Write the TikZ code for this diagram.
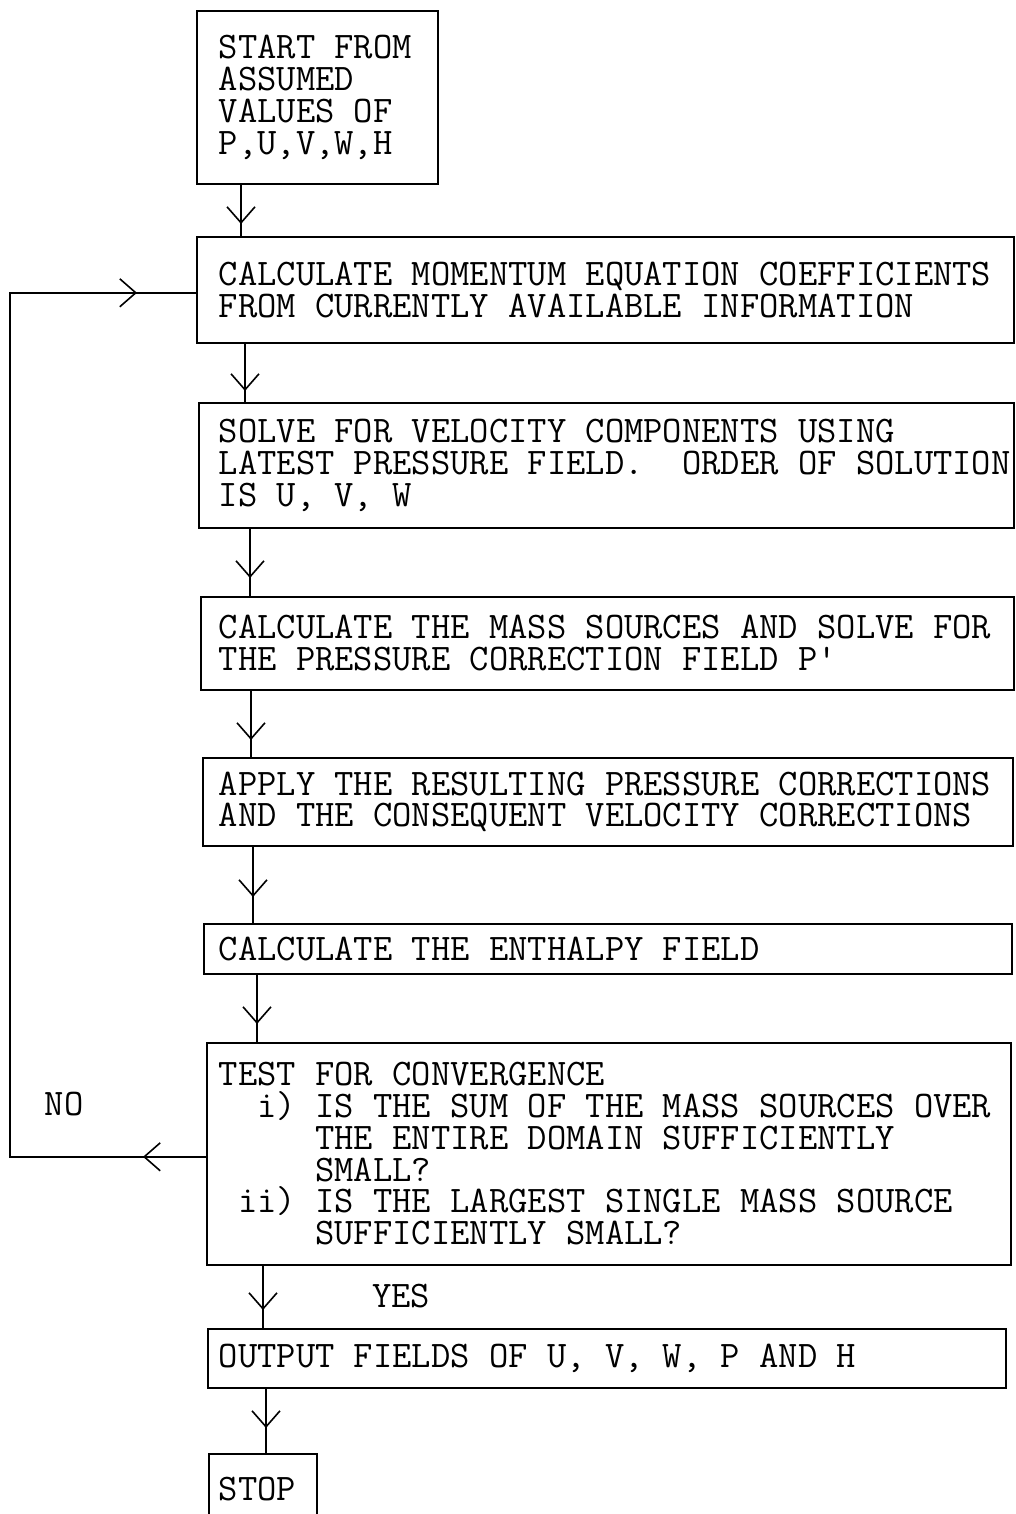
\documentclass[tikz,border=0pt]{standalone}
\usetikzlibrary{arrows.meta,decorations.markings}

\tikzset{
    stage/.style n args={3}{draw, anchor=north west, align=left,
        inner xsep=0pt, inner ysep=0pt,
        text width=#1, minimum height=#2,
        execute at begin node={\leftskip=#3\relax
            \spaceskip=\fontcharwd\font`A\relax \xspaceskip=\spaceskip}},
    flow/.style={postaction={decorate},
        decoration={markings, mark=at position #1 with {\arrow{>}}}},
    flow/.default=-16pt,
    answer/.style={inner sep=0pt}
}

\begin{document}
\begin{tikzpicture}[x=1pt, y=-1pt, line width=1.6pt,
    >={Straight Barb[length=16pt, width=28pt]},
    every node/.style={font=\fontsize{37.5pt}{31.8pt}\selectfont\ttfamily}
]
    \useasboundingbox (0,0) rectangle (1016,1514);

    % the stages of one pass
    \node[stage={241pt}{173pt}{22pt}] (start) at (196,10)
        {START FROM\\ASSUMED\\VALUES OF\\P,U,V,W,H};
    \node[stage={817pt}{106pt}{22pt}] (coeff) at (196,236)
        {CALCULATE MOMENTUM EQUATION COEFFICIENTS\\FROM CURRENTLY AVAILABLE INFORMATION};
    \node[stage={815pt}{125pt}{20pt}] (velocity) at (198,402)
        {SOLVE FOR VELOCITY COMPONENTS USING\\LATEST PRESSURE FIELD.~~ORDER OF SOLUTION\\IS U, V, W};
    \node[stage={813pt}{93pt}{18pt}] (masssrc) at (200,596)
        {CALCULATE THE MASS SOURCES AND SOLVE FOR\\THE PRESSURE CORRECTION FIELD P\textquotesingle};
    \node[stage={810pt}{88pt}{16pt}] (correct) at (202,757)
        {APPLY THE RESULTING PRESSURE CORRECTIONS\\AND THE CONSEQUENT VELOCITY CORRECTIONS};
    \node[stage={808pt}{50pt}{15pt}] (enthalpy) at (203,923)
        {CALCULATE THE ENTHALPY FIELD};
    \node[stage={804pt}{222pt}{12pt}] (test) at (206,1042)
        {TEST FOR CONVERGENCE\\
         ~~i) IS THE SUM OF THE MASS SOURCES OVER\\
         ~~~~~THE ENTIRE DOMAIN SUFFICIENTLY\\
         ~~~~~SMALL?\\
         ~ii) IS THE LARGEST SINGLE MASS SOURCE\\
         ~~~~~SUFFICIENTLY SMALL?};
    \node[stage={798pt}{59pt}{11pt}] (output) at (207,1328)
        {OUTPUT FIELDS OF U, V, W, P AND H};
    \node[stage={108pt}{71pt}{10pt}] (stop) at (208,1453) {STOP};

    \node[answer] (no) at (64,1104) {NO};
    \node[answer] (yes) at (401,1296) {YES};

    % downward connectors
    \foreach \a/\b/\x/\p in {start/coeff/241/-12pt, coeff/velocity/245/-11pt,
            velocity/masssrc/250/-18pt, masssrc/correct/251/-17pt,
            correct/enthalpy/253/-26pt, enthalpy/test/257/-18pt,
            test/output/263/-18pt, output/stop/266/-25pt}
        \draw[flow=\p] (\a.south -| \x,0) -- (\b.north -| \x,0);

    % back to the coefficients when not converged
    \draw[postaction={decorate}, decoration={markings,
            mark=at position 63pt with {\arrow{>}},
            mark=at position -59pt with {\arrow{>}}}]
        ([yshift=-3pt]test.west) -- ++(-196,0) |- ([yshift=-3pt]coeff.west);
\end{tikzpicture}
\end{document}
